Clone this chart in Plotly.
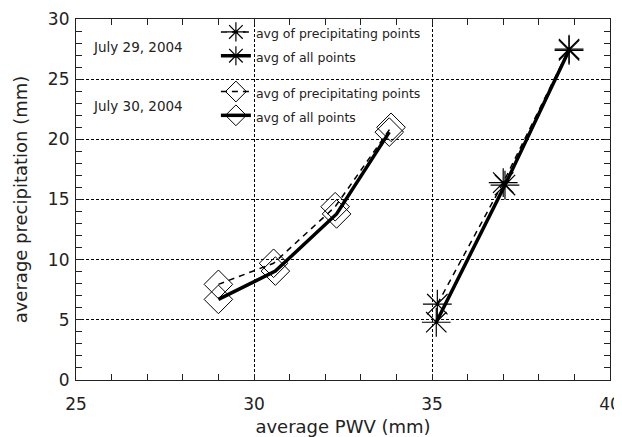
import plotly.graph_objects as go

# July 29, 2004 (asterisks)
jul29_pwv_precip = [35.15, 37.0, 38.85]
jul29_rain_precip = [6.3, 16.4, 27.5]
jul29_pwv_all = [35.12, 37.05, 38.85]
jul29_rain_all = [4.8, 16.2, 27.4]

# July 30, 2004 (diamonds)
jul30_pwv_precip = [29.0, 30.55, 32.28, 33.85]
jul30_rain_precip = [7.95, 9.7, 14.4, 21.0]
jul30_pwv_all = [29.0, 30.6, 32.32, 33.8]
jul30_rain_all = [6.7, 9.05, 13.8, 20.6]

legend_precip = "avg of precipitating points"
legend_all = "avg of all points"
date_labels = ["July 29, 2004", "July 30, 2004"]

FONT = "DejaVu Sans"
INK = "#222222"


def lt(s):
    return '<span style="font-size:12.5px">' + s + '</span>'


fig = go.Figure()

fig.add_trace(go.Scatter(
    x=jul29_pwv_precip, y=jul29_rain_precip, mode="lines+markers",
    name=lt(legend_precip), legendgroup="g29",
    line=dict(color="black", width=1.5, dash="6px,5px"),
    marker=dict(symbol="asterisk-open", size=24, color="black",
                line=dict(color="black", width=1.2)),
))
fig.add_trace(go.Scatter(
    x=jul29_pwv_all, y=jul29_rain_all, mode="lines+markers",
    name=lt(legend_all), legendgroup="g29",
    line=dict(color="black", width=3.5),
    marker=dict(symbol="asterisk-open", size=24, color="black",
                line=dict(color="black", width=1.2)),
))
fig.add_trace(go.Scatter(
    x=jul30_pwv_precip, y=jul30_rain_precip, mode="lines+markers",
    name=lt(legend_precip), legendgroup="g30",
    line=dict(color="black", width=1.5, dash="6px,5px"),
    marker=dict(symbol="diamond-open", size=22, color="black",
                line=dict(color="black", width=1)),
))
fig.add_trace(go.Scatter(
    x=jul30_pwv_all, y=jul30_rain_all, mode="lines+markers",
    name=lt(legend_all), legendgroup="g30",
    line=dict(color="black", width=3.5),
    marker=dict(symbol="diamond-open", size=22, color="black",
                line=dict(color="black", width=1)),
))

axis_common = dict(
    showline=True, mirror="allticks", linecolor=INK, linewidth=1.2,
    showgrid=True, gridcolor="black", gridwidth=1, griddash="3px,2px",
    zeroline=False, ticks="inside", ticklen=6, tickcolor=INK, tickwidth=1,
    dtick=5, automargin=False,
    minor=dict(dtick=1, ticks="inside", ticklen=6, tickcolor=INK, showgrid=False),
    tickfont=dict(family=FONT, size=17, color=INK),
)

# the page body adds an 8px margin, so the figure is sized to fit the window
fig.update_layout(
    width=614, height=429,
    margin=dict(l=68, r=12, t=7, b=57),
    paper_bgcolor="white", plot_bgcolor="white",
    font=dict(family=FONT, color=INK),
    xaxis=dict(range=[25, 40], ticklabelstandoff=8,
               title=dict(text="average PWV (mm)",
                          font=dict(family=FONT, size=18, color=INK)), **axis_common),
    yaxis=dict(range=[0, 30], ticklabelstandoff=2,
               title=dict(text="average precipitation (mm)",
                          font=dict(family=FONT, size=18, color=INK)), **axis_common),
    legend=dict(x=0.262, y=1.011, xanchor="left", yanchor="top",
                bgcolor="rgba(0,0,0,0)", borderwidth=0,
                font=dict(family=FONT, size=16, color=INK),
                traceorder="grouped", tracegroupgap=12),
    showlegend=True,
)

for lbl, yy in zip(date_labels, [0.923, 0.759]):
    fig.add_annotation(text=lbl, xref="paper", yref="paper", x=0.028, y=yy,
                       xanchor="left", yanchor="middle", showarrow=False,
                       font=dict(family=FONT, size=13.5, color=INK))

fig.write_html("out.html")
